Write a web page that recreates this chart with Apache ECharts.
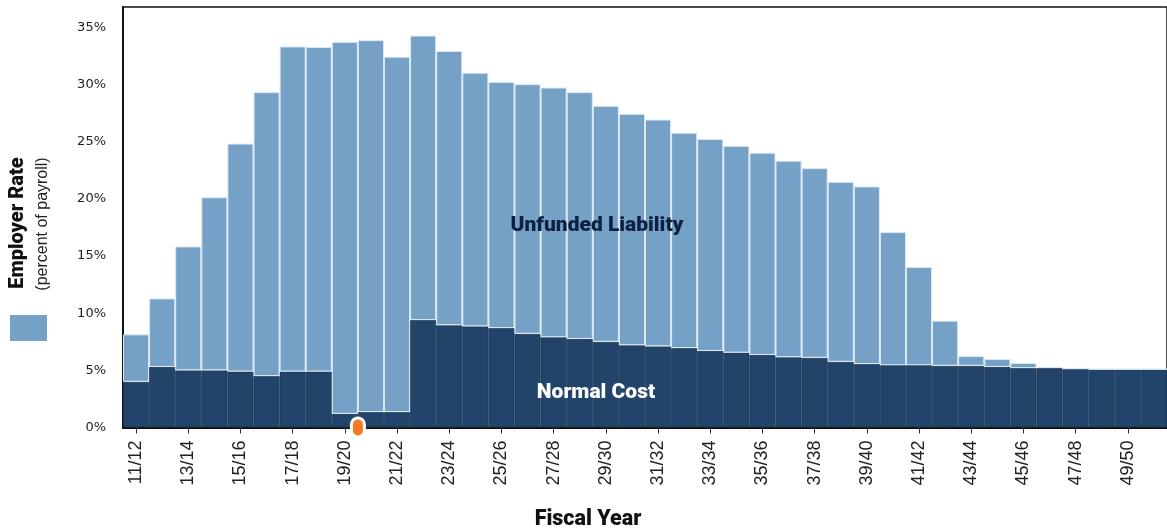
<!DOCTYPE html>
<html>
<head>
<meta charset="utf-8">
<script src="https://cdn.jsdelivr.net/npm/echarts@6/dist/echarts.min.js"></script>
<style>
html,body{margin:0;padding:0;background:#fff;}
#c{width:1167px;height:531px;}
</style>
</head>
<body>
<div id="c"></div>
<script>
const categories = ['11/12','12/13','13/14','14/15','15/16','16/17','17/18','18/19','19/20','20/21',
  '21/22','22/23','23/24','24/25','25/26','26/27','27/28','28/29','29/30','30/31',
  '31/32','32/33','33/34','34/35','35/36','36/37','37/38','38/39','39/40','40/41',
  '41/42','42/43','43/44','44/45','45/46','46/47','47/48','48/49','49/50','50/51'];
const normalCost = [4.0,5.3,5.0,5.0,4.9,4.5,4.9,4.9,1.2,1.35,
  1.35,9.4,8.95,8.85,8.7,8.2,7.9,7.75,7.5,7.2,
  7.1,6.95,6.7,6.55,6.35,6.15,6.1,5.75,5.55,5.45,
  5.45,5.4,5.4,5.3,5.2,5.2,5.15,5.1,5.1,5.1];
const totalRate = [8.15,11.3,15.85,20.15,24.85,29.35,33.35,33.3,33.75,33.9,
  32.45,34.3,32.95,31.05,30.25,30.05,29.75,29.35,28.15,27.45,
  26.95,25.8,25.25,24.65,24.05,23.35,22.7,21.5,21.1,17.1,
  14.05,9.35,6.25,6.0,5.65,5.3,5.15,5.1,5.1,5.1];
const unfunded = totalRate.map((t,i)=>Math.max(0, +(t-normalCost[i]).toFixed(2)));
const yTicks = [0,5,10,15,20,25,30,35];
const markerBetween = ['19/20','20/21'];

const chart = echarts.init(document.getElementById('c'));
const heavy = 'Roboto, "Liberation Sans", Arial, sans-serif';
const sans = '"Liberation Sans", Arial, sans-serif';
chart.setOption({
  animation:false,
  grid:{left:123, right:-8.5, top:7, bottom:103.5, show:true, borderColor:'#111', borderWidth:1.5, backgroundColor:'transparent'},
  xAxis:{
    type:'category', data:categories,
    axisLine:{lineStyle:{color:'#111', width:2}},
    axisTick:{show:true, interval:1, alignWithLabel:true, length:6, lineStyle:{color:'#333'}},
    axisLabel:{interval:1, rotate:90, margin:13, color:'#222', fontSize:18, fontFamily:sans}
  },
  yAxis:{
    type:'value', min:0, max:36.8, interval:5,
    axisLine:{show:true, lineStyle:{color:'#111', width:2}},
    axisTick:{show:false}, splitLine:{show:false},
    axisLabel:{margin:17, color:'#222', fontSize:13, fontFamily:'"DejaVu Sans", sans-serif',
      formatter:v=> yTicks.indexOf(Math.round(v*100)/100)>=0 ? v+'%' : ''}
  },
  series:[
    {name:'Normal Cost', type:'bar', stack:'r', data:normalCost, barCategoryGap:'0%',
     itemStyle:{color:'#23446a', borderColor:'#1a3352', borderWidth:0.8}},
    {name:'Unfunded Liability', type:'bar', stack:'r', data:unfunded, barCategoryGap:'0%',
     itemStyle:{color:'#76a1c6', borderColor:'#dce9f4', borderWidth:1}}
  ]
});
const i0 = categories.indexOf(markerBetween[0]), i1 = categories.indexOf(markerBetween[1]);
const mx = (chart.convertToPixel({xAxisIndex:0}, i0) + chart.convertToPixel({xAxisIndex:0}, i1))/2;
const my = chart.convertToPixel({yAxisIndex:0}, 0);
chart.setOption({graphic:[
  {type:'text', z:100, x:17.5, y:223, rotation:Math.PI/2, style:{text:'Employer Rate', fontSize:20, fontWeight:900, fontFamily:heavy, fill:'#111', align:'center', verticalAlign:'middle'}},
  {type:'text', z:100, x:42.5, y:224, rotation:Math.PI/2, style:{text:'(percent of payroll)', fontSize:16, fontFamily:sans, fill:'#222', align:'center', verticalAlign:'middle'}},
  {type:'rect', z:100, shape:{x:10, y:315, width:37, height:26}, style:{fill:'#76a1c6'}},
  {type:'text', z:100, x:597, y:226, style:{text:'Unfunded Liability', fontSize:21, fontWeight:900, fontFamily:heavy, fill:'#0d2240', align:'center', verticalAlign:'middle'}},
  {type:'text', z:100, x:596, y:393, style:{text:'Normal Cost', fontSize:21, fontWeight:900, fontFamily:heavy, fill:'#fff', align:'center', verticalAlign:'middle'}},
  {type:'text', z:100, x:588, y:520, style:{text:'Fiscal Year', fontSize:21.5, fontWeight:900, fontFamily:heavy, fill:'#111', align:'center', verticalAlign:'middle'}},
  {type:'rect', z:100, shape:{x:mx-5, y:my-8, width:10, height:16, r:5}, style:{fill:'#f37b21', stroke:'#fff', lineWidth:6, strokeFirst:true}}
]});
</script>
</body>
</html>
